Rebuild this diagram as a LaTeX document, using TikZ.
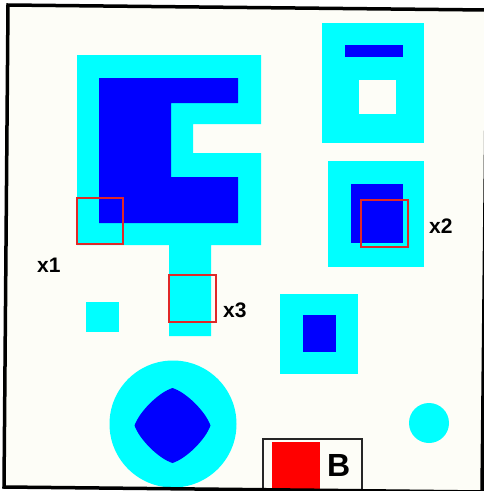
\documentclass[tikz,border=0pt]{standalone}
\usepackage{fontspec}
\setmainfont{Liberation Sans}
\definecolor{offwhite}{HTML}{FDFDF7}
\definecolor{cy}{HTML}{00FFFF}
\definecolor{bl}{HTML}{0000FF}
\definecolor{rd}{HTML}{FF0000}
\definecolor{boxred}{HTML}{E02828}
\tikzset{
  redbox/.style={draw=boxred, line width=1.5pt},
  lab/.style={inner sep=0pt, anchor=base west, font=\bfseries\fontsize{21}{21}\selectfont},
  frame/.style={draw=black, line width=3.5pt, line join=miter}
}
\begin{document}
\begin{tikzpicture}[x=1pt,y=-1pt]
\useasboundingbox (0,0) rectangle (484,491);
\fill[white] (0,0) rectangle (484,491);
\fill[offwhite] (8,5) -- (487,10) -- (482,492) -- (4,487) -- cycle;
% big C-shaped block
\fill[cy] (77,55) -- (261,55) -- (261,124) -- (193,124) -- (193,153) -- (261,153)
  -- (261,245) -- (211,245) -- (211,336) -- (169,336) -- (169,245) -- (77,245) -- cycle;
\fill[bl] (99,78) -- (238,78) -- (238,103) -- (171,103) -- (171,177) -- (238,177)
  -- (238,223) -- (99,223) -- cycle;
% small cyan square
\fill[cy] (86,302) rectangle (119,332);
% top right block
\fill[cy] (322,23) rectangle (424,143);
\fill[bl] (345,45) rectangle (403,57);
\fill[offwhite] (359,80) rectangle (396,114);
% right middle block
\fill[cy] (328,161) rectangle (424,267);
\fill[bl] (351,184) rectangle (403,243);
% middle square
\fill[cy] (280,294) rectangle (358,374);
\fill[bl] (303,315) rectangle (336,352);
% big circle with rounded diamond
\fill[cy] (173,424) circle (63.5);
\fill[bl] (172.5,388) .. controls (186.5,392.5) and (205.5,411.5) .. (210.5,425.5)
  .. controls (205.5,439.5) and (186.5,458.5) .. (172.5,463)
  .. controls (158.5,458.5) and (139.5,439.5) .. (134.5,425.5)
  .. controls (139.5,411.5) and (158.5,392.5) .. (172.5,388) -- cycle;
% small circle
\fill[cy] (429,423) circle (20);
% B box
\fill[rd] (272,442) rectangle (320,492);
\draw[line width=1.5pt, draw=black!85] (263,492) -- (263,439) -- (362,439) -- (362,492);
\node[inner sep=0pt, anchor=base west, font=\bfseries\fontsize{32}{32}\selectfont] (lb) at (327,476) {B};
% red boxes and labels
\draw[redbox] (77,198) rectangle (123,244);
\draw[redbox] (169,275) rectangle (216,322);
\draw[redbox] (361,200) rectangle (408,247);
\node[lab] (l1) at (37,272) {x1};
\node[lab] (l3) at (223,317) {x3};
\node[lab] (l2) at (429,233) {x2};
% frame
\draw[frame] (8,5) -- (487,10) -- (482,492) -- (4,487) -- cycle;
\end{tikzpicture}
\end{document}
